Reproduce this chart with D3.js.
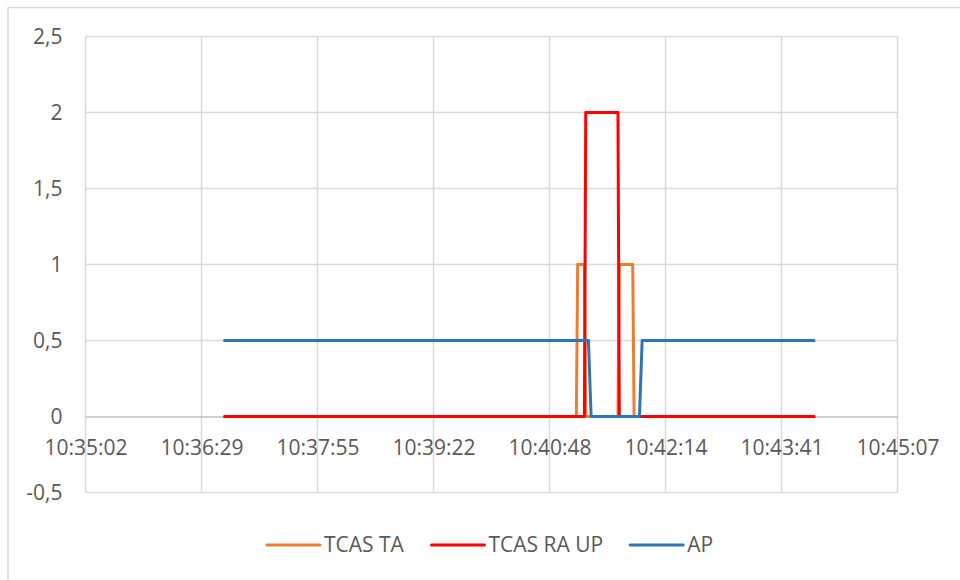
<!DOCTYPE html>
<html>
<head>
<meta charset="utf-8">
<script src="https://cdn.jsdelivr.net/npm/d3@7/dist/d3.min.js"></script>
<style>
  html, body { margin: 0; padding: 0; background: #fff; }
  svg { display: block; }
  text { font-family: "Open Sans", "Noto Sans", sans-serif; fill: #595959; }
</style>
</head>
<body>
<svg id="chart" width="960" height="580"></svg>
<script>
// ---- data ----
const seriesNames = ["TCAS TA", "TCAS RA UP", "AP"];
const seriesColors = ["#ED7D31", "#FF0000", "#2E75B6"];

const timesTA = ["10:36:46","10:41:08","10:41:09","10:41:14","10:41:15","10:41:39","10:41:40","10:41:50","10:41:51","10:44:05"];
const valuesTA = [0, 0, 1, 1, 0, 0, 1, 1, 0, 0];

const timesRA = ["10:36:46","10:41:14","10:41:15","10:41:39","10:41:40","10:44:05"];
const valuesRA = [0, 0, 2, 2, 0, 0];

const timesAP = ["10:36:46","10:41:17","10:41:19","10:41:55","10:41:57","10:44:05"];
const valuesAP = [0.5, 0.5, 0, 0, 0.5, 0.5];

// x axis in Excel day fractions (major unit 0.001 day)
const xTickDays = [0.441, 0.442, 0.443, 0.444, 0.445, 0.446, 0.447, 0.448];
const yTicks = [-0.5, 0, 0.5, 1, 1.5, 2, 2.5];

// ---- helpers ----
const toSec = s => { const p = s.split(":").map(Number); return p[0]*3600 + p[1]*60 + p[2]; };
const fmtTime = sec => {
  const r = Math.round(sec);
  const h = Math.floor(r/3600), m = Math.floor((r%3600)/60), s = r%60;
  const pad = n => String(n).padStart(2, "0");
  return h + ":" + pad(m) + ":" + pad(s);
};
const locale = d3.formatLocale({decimal: ",", thousands: ".", grouping: [3], currency: ["", "€"], minus: "-"});
const fmtY = v => locale.format("~g")(v);

const series = [
  {name: seriesNames[0], color: seriesColors[0], pts: timesTA.map((t,i) => ({x: toSec(t), y: valuesTA[i]}))},
  {name: seriesNames[1], color: seriesColors[1], pts: timesRA.map((t,i) => ({x: toSec(t), y: valuesRA[i]}))},
  {name: seriesNames[2], color: seriesColors[2], pts: timesAP.map((t,i) => ({x: toSec(t), y: valuesAP[i]}))}
];

// ---- layout ----
const svg = d3.select("#chart");
const plot = {left: 85.5, right: 897.5, top: 36.5, bottom: 492.5};
const FS = 21;

// chart frame (only top and left edges visible in reference)
svg.append("line").attr("x1", 8).attr("x2", 960).attr("y1", 7.5).attr("y2", 7.5)
  .attr("stroke", "#d9d9d9").attr("stroke-width", 1.5);
svg.append("line").attr("x1", 8).attr("x2", 8).attr("y1", 7).attr("y2", 580)
  .attr("stroke", "#d9d9d9").attr("stroke-width", 1.5);

const xTickSecs = xTickDays.map(d => d * 86400);
const x = d3.scaleLinear().domain([xTickSecs[0], xTickSecs[xTickSecs.length-1]]).range([plot.left, plot.right]);
const y = d3.scaleLinear().domain([-0.5, 2.5]).range([plot.bottom, plot.top]);

// gridlines
const grid = svg.append("g");
grid.selectAll("line.h").data(yTicks.filter(v => v !== 0)).enter().append("line")
  .attr("x1", plot.left).attr("x2", plot.right)
  .attr("y1", d => y(d)).attr("y2", d => y(d))
  .attr("stroke", "#d9d9d9").attr("stroke-width", 1.5);
grid.selectAll("line.v").data(xTickSecs).enter().append("line")
  .attr("x1", d => x(d)).attr("x2", d => x(d))
  .attr("y1", plot.top).attr("y2", plot.bottom)
  .attr("stroke", "#d9d9d9").attr("stroke-width", 1.5);

// y axis labels
const yAxis = d3.axisLeft(y).tickValues(yTicks).tickFormat(fmtY).tickSize(0).tickPadding(23);
const gy = svg.append("g").attr("transform", `translate(${plot.left},0)`).call(yAxis);
gy.select(".domain").remove();
gy.selectAll("text").attr("font-size", FS).style("font-family", '"Open Sans", sans-serif').attr("fill", "#595959");

// x axis at zero
const xAxis = d3.axisBottom(x).tickValues(xTickSecs).tickFormat(fmtTime).tickSize(0).tickPadding(24);
const gx = svg.append("g").attr("transform", `translate(0,${y(0)})`).call(xAxis);
gx.select(".domain").attr("stroke", "#bfbfbf").attr("stroke-width", 1.5);
gx.selectAll("text").attr("font-size", FS).style("font-family", '"Open Sans", sans-serif').attr("fill", "#595959");

// lines
const line = d3.line().x(d => x(d.x)).y(d => y(d.y));
svg.append("g").selectAll("path").data(series).enter().append("path")
  .attr("d", d => line(d.pts))
  .attr("fill", "none")
  .attr("stroke", d => d.color)
  .attr("stroke-width", 3)
  .attr("stroke-linejoin", "round")
  .attr("stroke-linecap", "round");

// legend
const legY = 545;
const lg = svg.append("g");
const items = lg.selectAll("g").data(series).enter().append("g");
items.append("line").attr("x1", 0).attr("x2", 53).attr("y1", 0).attr("y2", 0)
  .attr("stroke", d => d.color).attr("stroke-width", 3).attr("stroke-linecap", "round");
items.append("text").attr("x", 57).attr("y", 0).attr("dy", "0.35em")
  .attr("font-size", FS).text(d => d.name);
let cx = 0;
items.each(function() {
  const w = this.getBBox().width;
  d3.select(this).attr("transform", `translate(${cx},${legY})`);
  cx += w + 27;
});
const totalW = cx - 27;
lg.attr("transform", `translate(${490 - totalW/2},0)`);
</script>
</body>
</html>
